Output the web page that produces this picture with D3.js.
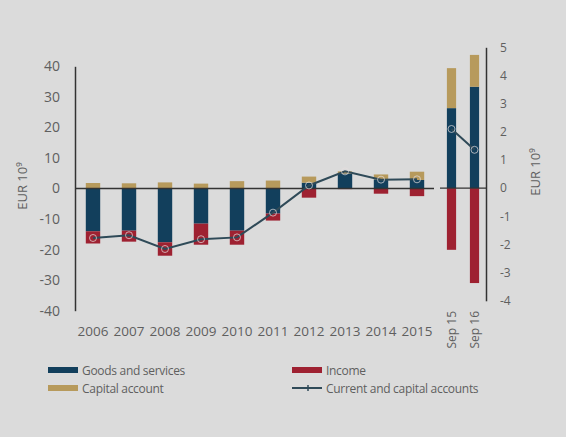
<!DOCTYPE html>
<html>
<head>
<meta charset="utf-8">
<script src="https://cdn.jsdelivr.net/npm/d3@7"></script>
<style>
  body { margin: 0; background: #dbdbdb; }
  svg { display: block; font-family: "Open Sans", sans-serif; }
</style>
</head>
<body>
<svg id="chart"></svg>
<script>
// annual values, EUR bn (left axis)
var years   = ['2006', '2007', '2008', '2009', '2010', '2011', '2012', '2013', '2014', '2015'];
var goods   = [-14.0, -13.8, -17.6, -11.5, -13.8, -8.2, 1.9, 4.9, 3.0, 2.8];
var income  = [-4.0, -3.6, -4.4, -6.9, -4.6, -2.3, -3.0, -0.2, -1.7, -2.5];
var capital = [1.8, 1.7, 2.0, 1.6, 2.4, 2.6, 2.0, 0.7, 1.6, 2.7];
var total   = [-16.2, -15.3, -19.8, -16.6, -16.0, -7.9, 1.0, 5.6, 2.9, 3.0];

// monthly values, EUR bn (right axis)
var months     = ['Sep 15', 'Sep 16'];
var goodsM     = [2.84, 3.6];
var incomeM    = [-2.19, -3.37];
var capitalM   = [1.42, 1.13];
var totalM     = [2.1, 1.36];

var leftTicks  = [-40, -30, -20, -10, 0, 10, 20, 30, 40];
var rightTicks = [-4, -3, -2, -1, 0, 1, 2, 3, 4, 5];

var COL = {
	goods: '#123f5c',
	income: '#9e2131',
	capital: '#b79a5c',
	line: '#2f4a58',
	axis: '#333',
	text: '#5f5f5f'
};

var W = 566, H = 437;
var svg = d3.select('#chart').attr('width', W).attr('height', H);

var yL = d3.scaleLinear().domain([-40, 40]).range([310.7, 66.3]);
var yR = d3.scaleLinear().domain([-4, 5]).range([300.8, 47.3]);
var xL = d3.scaleBand().domain(years).range([75, 435]).paddingInner(0.6).paddingOuter(0.3);
var xR = d3.scaleBand().domain(months).range([440, 486]).paddingInner(0.6).paddingOuter(0.3);

var keys = ['goods', 'income', 'capital'];
var stack = d3.stack().keys(keys).offset(d3.stackOffsetDiverging);

var rowsL = years.map(function(y, i) {
	return {cat: y, goods: goods[i], income: income[i], capital: capital[i]};
});
var rowsR = months.map(function(m, i) {
	return {cat: m, goods: goodsM[i], income: incomeM[i], capital: capitalM[i]};
});

function drawBars(rows, x, y) {
	var layers = svg.append('g').selectAll('g')
		.data(stack(rows))
		.enter().append('g')
			.style('fill', function(d) { return COL[d.key]; });
	layers.selectAll('rect')
		.data(function(d) { return d; })
		.enter().append('rect')
			.attr('x', function(d) { return x(d.data.cat); })
			.attr('width', x.bandwidth())
			.attr('y', function(d) { return y(Math.max(d[0], d[1])); })
			.attr('height', function(d) { return Math.abs(y(d[0]) - y(d[1])); });
}

drawBars(rowsL, xL, yL);
drawBars(rowsR, xR, yR);

// zero lines
svg.append('line')
	.attr('x1', 75).attr('x2', 434)
	.attr('y1', yL(0)).attr('y2', yL(0))
	.style('stroke', COL.axis).style('stroke-width', 1.3);
svg.append('line')
	.attr('x1', 440).attr('x2', 486)
	.attr('y1', yR(0)).attr('y2', yR(0))
	.style('stroke', COL.axis).style('stroke-width', 1.3);

// total line + markers
function drawLine(cats, vals, x, y) {
	var pts = cats.map(function(c, i) { return [x(c) + x.bandwidth() / 2, y(vals[i])]; });
	svg.append('path')
		.attr('d', d3.line()(pts))
		.style('fill', 'none')
		.style('stroke', COL.line)
		.style('stroke-width', 2);
	svg.append('g').selectAll('circle')
		.data(pts)
		.enter().append('circle')
			.attr('cx', function(d) { return d[0]; })
			.attr('cy', function(d) { return d[1]; })
			.attr('r', 3.5)
			.style('fill', 'none')
			.style('stroke', '#e6dede')
			.style('stroke-opacity', 0.7)
			.style('stroke-width', 1);
}
drawLine(years, total, xL, yL);
drawLine(months, totalM, xR, yR);

// left axis
var axL = svg.append('g')
	.attr('transform', 'translate(75,0)')
	.call(d3.axisLeft(yL).tickValues(leftTicks).tickSize(0).tickPadding(15)
		.tickFormat(function(d) { return String(d); }));
axL.select('.domain').style('stroke', COL.axis).style('stroke-width', 1.5);
axL.selectAll('text').style('font-size', '14px').style('fill', COL.text)
	.style('font-family', '"Open Sans", sans-serif');

// right axis
var axR = svg.append('g')
	.attr('transform', 'translate(486,0)')
	.call(d3.axisRight(yR).tickValues(rightTicks).tickSize(0).tickPadding(14)
		.tickFormat(function(d) { return String(d); }));
axR.select('.domain').style('stroke', COL.axis).style('stroke-width', 1.5);
axR.selectAll('text').style('font-size', '12px').style('fill', COL.text)
	.style('font-family', '"Open Sans", sans-serif');

// axis titles
svg.append('text')
	.attr('transform', 'translate(27,186) rotate(-90)')
	.attr('text-anchor', 'middle')
	.style('font-size', '13px').style('fill', COL.text)
	.text('EUR 10⁹');
svg.append('text')
	.attr('transform', 'translate(540,172) rotate(-90)')
	.attr('text-anchor', 'middle')
	.style('font-size', '13px').style('fill', COL.text)
	.text('EUR 10⁹');

// category labels
svg.append('g').selectAll('text')
	.data(years)
	.enter().append('text')
		.attr('x', function(d) { return xL(d) + xL.bandwidth() / 2; })
		.attr('y', 336)
		.attr('text-anchor', 'middle')
		.style('font-size', '13.5px').style('fill', COL.text)
		.text(function(d) { return d; });
svg.append('g').selectAll('text')
	.data(months)
	.enter().append('text')
		.attr('transform', function(d) {
			return 'translate(' + (xR(d) + xR.bandwidth() / 2 + 4) + ',311) rotate(-90)';
		})
		.attr('text-anchor', 'end')
		.style('font-size', '12px').style('fill', COL.text)
		.text(function(d) { return d; });

// legend
var legend = [
	{label: 'Goods and services', type: 'bar', color: COL.goods, x: 48, y: 370},
	{label: 'Income', type: 'bar', color: COL.income, x: 292, y: 370},
	{label: 'Capital account', type: 'bar', color: COL.capital, x: 48, y: 388},
	{label: 'Current and capital accounts', type: 'line', color: COL.line, x: 292, y: 388}
];
var lg = svg.append('g').selectAll('g')
	.data(legend)
	.enter().append('g')
		.attr('transform', function(d) { return 'translate(' + d.x + ',' + d.y + ')'; });
lg.filter(function(d) { return d.type == 'bar'; })
	.append('rect')
		.attr('x', 0).attr('y', -3).attr('width', 30).attr('height', 6)
		.style('fill', function(d) { return d.color; });
lg.filter(function(d) { return d.type == 'line'; })
	.append('line')
		.attr('x1', 0).attr('x2', 30).attr('y1', 0).attr('y2', 0)
		.style('stroke', function(d) { return d.color; }).style('stroke-width', 2);
lg.filter(function(d) { return d.type == 'line'; })
	.append('line')
		.attr('x1', 16).attr('x2', 16).attr('y1', -3).attr('y2', 3)
		.style('stroke', function(d) { return d.color; }).style('stroke-width', 1.5);
lg.append('text')
	.attr('x', 34).attr('y', 4.5)
	.style('font-size', '12px').style('fill', COL.text)
	.style('letter-spacing', '-0.3px')
	.text(function(d) { return d.label; });
</script>
</body>
</html>
